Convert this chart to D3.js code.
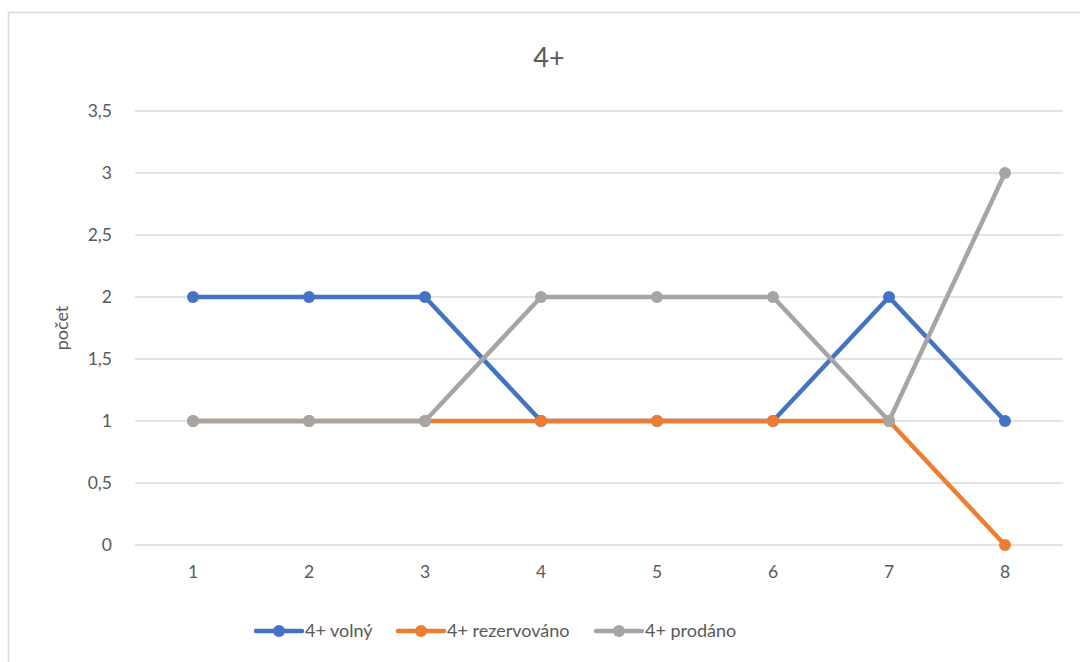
<!DOCTYPE html>
<html>
<head>
<meta charset="utf-8">
<script src="https://cdn.jsdelivr.net/npm/d3@7"></script>
<style>
  body { margin: 0; background: #fff; }
  text { font-family: Lato, "Open Sans", sans-serif; fill: #595959; }
</style>
</head>
<body>
<div id="chart"></div>
<script>
// data
var categories = ["1", "2", "3", "4", "5", "6", "7", "8"];
var volny = [2, 2, 2, 1, 1, 1, 2, 1];
var rezervovano = [1, 1, 1, 1, 1, 1, 1, 0];
var prodano = [1, 1, 1, 2, 2, 2, 1, 3];
var yTicks = [0, 0.5, 1, 1.5, 2, 2.5, 3, 3.5];
var seriesNames = ["4+ volný", "4+ rezervováno", "4+ prodáno"];
var colors = ["#4472c4", "#ed7d31", "#a5a5a5"];

var svg_w = 1080, svg_h = 662;
var series = [volny, rezervovano, prodano];

var svg = d3.select("#chart")
      .append("svg")
      .attr("width", svg_w)
      .attr("height", svg_h);

// chart area border
svg.append("rect")
  .attr("x", 8.5).attr("y", 12.5)
  .attr("width", 1090).attr("height", 680)
  .attr("fill", "none")
  .attr("stroke", "#d9d9d9")
  .attr("stroke-width", 1.5);

var xScale = d3.scaleBand()
      .domain(categories)
      .range([135, 1063]);

var yScale = d3.scaleLinear()
      .domain([0, 3.5])
      .range([545, 111]);

// gridlines
svg.append("g")
  .selectAll("line")
  .data(yTicks)
  .enter()
  .append("line")
  .attr("x1", 135)
  .attr("x2", 1063)
  .attr("y1", function(d) { return yScale(d); })
  .attr("y2", function(d) { return yScale(d); })
  .style("stroke", "#d9d9d9")
  .attr("stroke-width", 1.5);

// y labels
var fmt = function(d) { return String(d).replace(".", ","); };
var yAxis = d3.axisLeft(yScale)
      .tickValues(yTicks)
      .tickFormat(fmt)
      .tickSize(0)
      .tickPadding(0);
var gy = svg.append("g")
  .attr("transform", "translate(112,0)")
  .call(yAxis);
gy.select(".domain").remove();
gy.selectAll("text").style("font-size", "17.5px").attr("fill", "#595959");

// x labels
var xAxis = d3.axisBottom(xScale).tickSize(0).tickPadding(0);
var gx = svg.append("g")
  .attr("transform", "translate(0,566)")
  .call(xAxis);
gx.select(".domain").remove();
gx.selectAll("text").style("font-size", "17.5px").attr("fill", "#595959");

// title
svg.append("text")
  .attr("x", 549).attr("y", 67)
  .attr("text-anchor", "middle")
  .style("font-size", "27px")
  .text("4+");

// y title
svg.append("text")
  .attr("transform", "translate(68,328) rotate(-90)")
  .attr("text-anchor", "middle")
  .style("font-size", "18px")
  .text("počet");

// lines and markers
var line = d3.line()
      .x(function(d, i) { return xScale(categories[i]) + xScale.bandwidth() / 2; })
      .y(function(d) { return yScale(d); });

series.forEach(function(s, k) {
  var g = svg.append("g");
  g.append("path")
    .datum(s)
    .attr("d", line)
    .attr("fill", "none")
    .attr("stroke", colors[k])
    .attr("stroke-width", 4.5)
    .attr("stroke-linejoin", "round");
  g.selectAll("circle")
    .data(s)
    .enter()
    .append("circle")
    .attr("cx", function(d, i) { return xScale(categories[i]) + xScale.bandwidth() / 2; })
    .attr("cy", function(d) { return yScale(d); })
    .attr("r", 6)
    .style("fill", colors[k]);
});

// legend
var legendX = [256, 398, 596];
var lg = svg.append("g");
seriesNames.forEach(function(name, k) {
  var x0 = legendX[k];
  lg.append("line")
    .attr("x1", x0).attr("x2", x0 + 46)
    .attr("y1", 631).attr("y2", 631)
    .attr("stroke", colors[k])
    .attr("stroke-width", 4.5)
    .attr("stroke-linecap", "round");
  lg.append("circle")
    .attr("cx", x0 + 23).attr("cy", 631).attr("r", 6)
    .style("fill", colors[k]);
  lg.append("text")
    .attr("x", x0 + 49).attr("y", 637)
    .style("font-size", "18px")
    .text(name);
});
</script>
</body>
</html>
